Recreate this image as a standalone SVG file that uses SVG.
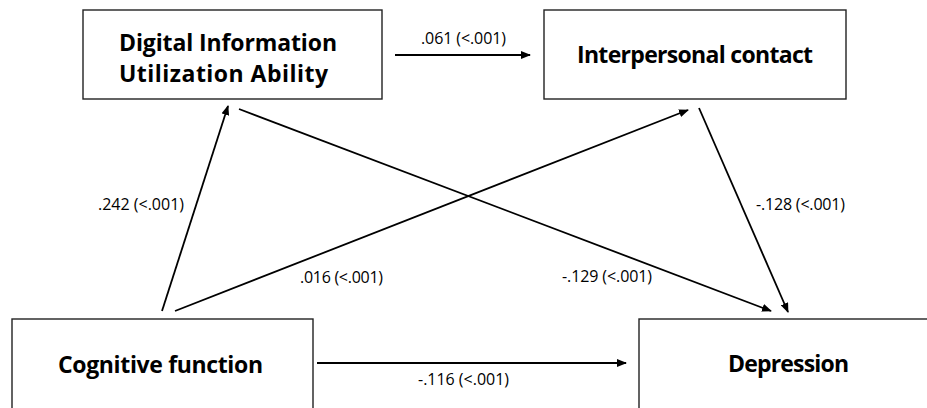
<svg xmlns="http://www.w3.org/2000/svg" width="927" height="408" viewBox="0 0 927 408">
  <defs>
    <style>
      .box { fill: #ffffff; stroke: #222222; stroke-width: 1.4; }
      .node-text { font-family: "Open Sans", "Noto Sans", "Liberation Sans", sans-serif; font-weight: bold; font-size: 23px; fill: #000000; }
      .edge { fill: none; stroke: #000000; stroke-width: 1.8; marker-end: url(#arrow); }
      .edge-label { font-family: "Open Sans", "Noto Sans", "Liberation Sans", sans-serif; font-size: 16px; fill: #000000; }
    </style>
    <marker id="arrow" markerUnits="userSpaceOnUse" markerWidth="10" markerHeight="8" refX="9" refY="4" orient="auto">
      <path d="M0,0 L10,4 L0,8 Z" fill="#000000"/>
    </marker>
  </defs>
  <rect x="0" y="0" width="927" height="408" fill="#ffffff"/>

  <g id="node-digital">
    <rect class="box" x="83" y="10" width="299" height="89"/>
    <text class="node-text" x="119" y="51" textLength="218" lengthAdjust="spacing">Digital Information</text>
    <text class="node-text" x="119" y="82" textLength="209" lengthAdjust="spacing">Utilization Ability</text>
  </g>

  <g id="node-interpersonal">
    <rect class="box" x="544" y="10" width="302" height="89"/>
    <text class="node-text" x="577" y="63" textLength="236" lengthAdjust="spacing">Interpersonal contact</text>
  </g>

  <g id="node-cognitive">
    <rect class="box" x="12" y="319" width="301" height="100"/>
    <text class="node-text" x="58" y="373" textLength="205" lengthAdjust="spacing">Cognitive function</text>
  </g>

  <g id="node-depression">
    <rect class="box" x="639" y="319" width="300" height="100"/>
    <text class="node-text" x="728" y="372" textLength="121" lengthAdjust="spacing">Depression</text>
  </g>

  <g id="connectors">
    <line class="edge" x1="395" y1="55" x2="530" y2="55"/>
    <line class="edge" x1="162" y1="311" x2="228" y2="106"/>
    <line class="edge" x1="239" y1="109" x2="771" y2="311"/>
    <line class="edge" x1="175" y1="311" x2="688" y2="110"/>
    <line class="edge" x1="699" y1="108" x2="788" y2="312"/>
    <line class="edge" x1="317" y1="363" x2="626" y2="363"/>

    <text class="edge-label" x="421" y="44" textLength="85" lengthAdjust="spacing">.061 (&lt;.001)</text>
    <text class="edge-label" x="98" y="210" textLength="86" lengthAdjust="spacing">.242 (&lt;.001)</text>
    <text class="edge-label" x="300" y="283" textLength="83" lengthAdjust="spacing">.016 (&lt;.001)</text>
    <text class="edge-label" x="562" y="282" textLength="90" lengthAdjust="spacing">-.129 (&lt;.001)</text>
    <text class="edge-label" x="756" y="210" textLength="89" lengthAdjust="spacing">-.128 (&lt;.001)</text>
    <text class="edge-label" x="418" y="385" textLength="91" lengthAdjust="spacing">-.116 (&lt;.001)</text>
  </g>
</svg>
